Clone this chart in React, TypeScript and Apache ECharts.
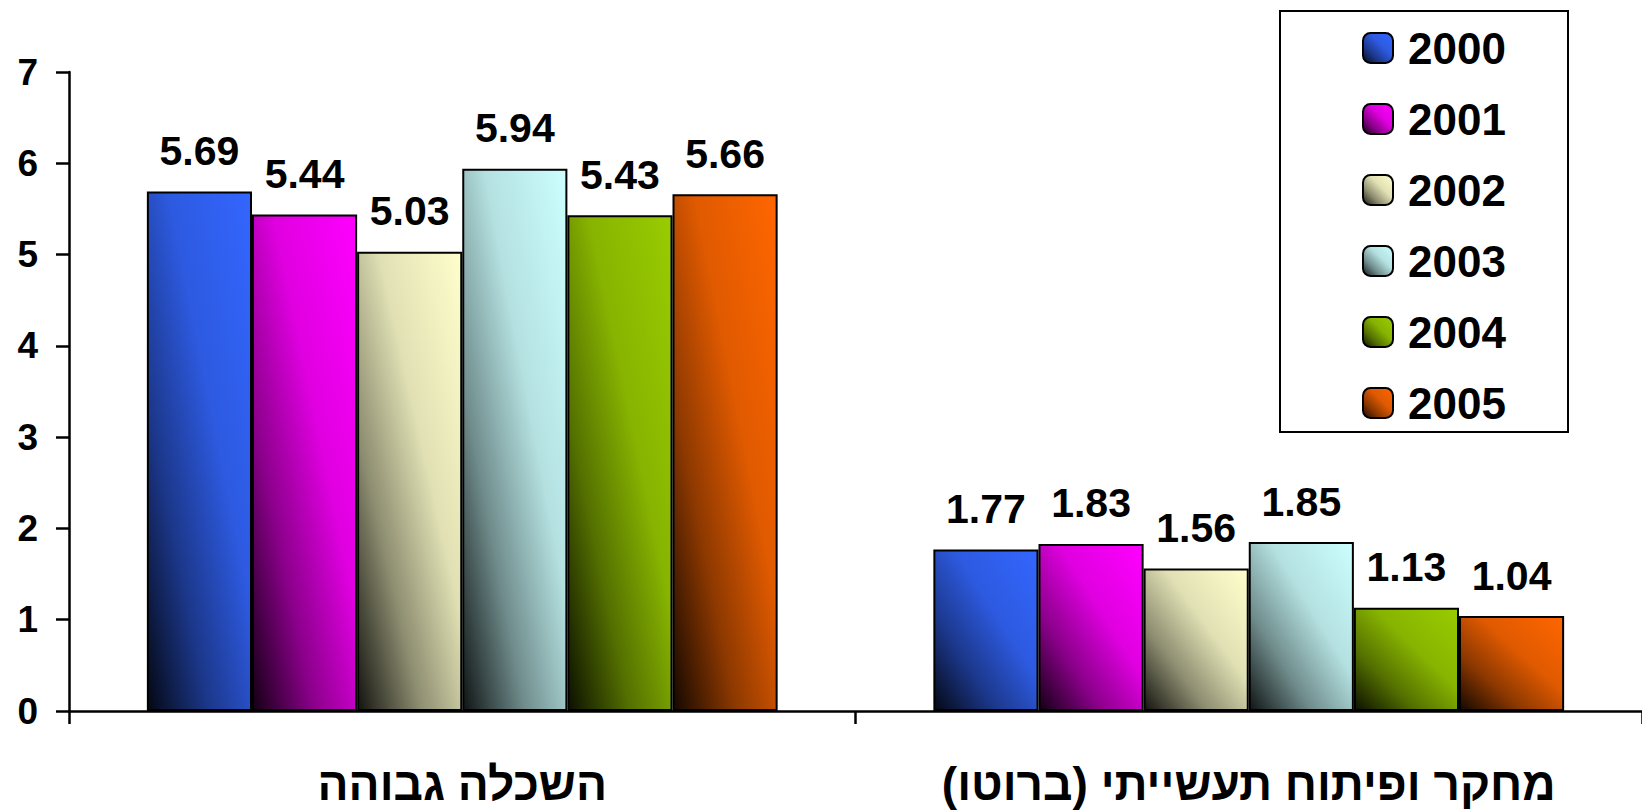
import React, { useEffect, useRef } from "react";
import * as echarts from "echarts";

const categories = ["השכלה גבוהה", "מחקר ופיתוח תעשייתי (ברוטו)"];
const years = ["2000", "2001", "2002", "2003", "2004", "2005"];
const v2000 = [5.69, 1.77];
const v2001 = [5.44, 1.83];
const v2002 = [5.03, 1.56];
const v2003 = [5.94, 1.85];
const v2004 = [5.43, 1.13];
const v2005 = [5.66, 1.04];
const seriesValues = [v2000, v2001, v2002, v2003, v2004, v2005];
const yTicks = { min: 0, max: 7, interval: 1 };

const baseColors = ["#3366FF", "#FF00FF", "#FFFFCC", "#CCFFFF", "#99CC00", "#FF6600"];

function shade(hex: string, f: number) {
  const n = parseInt(hex.slice(1), 16);
  const r = Math.round(((n >> 16) & 255) * f);
  const g = Math.round(((n >> 8) & 255) * f);
  const b = Math.round((n & 255) * f);
  return `rgb(${r},${g},${b})`;
}

function grad(hex: string) {
  return new echarts.graphic.LinearGradient(0, 1, 1, 0, [
    { offset: 0, color: shade(hex, 0.08) },
    { offset: 0.3, color: shade(hex, 0.55) },
    { offset: 0.6, color: shade(hex, 0.88) },
    { offset: 1, color: hex },
  ]);
}

const FONT = '"Liberation Sans", Arial, sans-serif';

export default function App() {
  const ref = useRef<HTMLDivElement>(null);
  useEffect(() => {
    document.body.style.margin = "0";
    if (!ref.current) return;
    const chart = echarts.init(ref.current, undefined, { renderer: "svg" });
    chart.setOption({
      animation: false,
      grid: { left: 69, right: 0, top: 72, bottom: 101, containLabel: false },
      graphic: [
        {
          type: "rect",
          shape: { x: 1280, y: 11, width: 288, height: 421 },
          style: { fill: "#fff", stroke: "#000", lineWidth: 2 },
          z: 0,
        },
      ],
      legend: {
        orient: "vertical",
        left: 1357,
        top: 21,
        itemWidth: 30,
        itemHeight: 30,
        itemGap: 27,
        data: years,
        textStyle: {
          fontFamily: FONT,
          fontWeight: "bold",
          fontSize: 44,
          lineHeight: 43,
          color: "#000",
          padding: [0, 0, 0, 10],
        },
        z: 5,
      },
      xAxis: {
        type: "category",
        data: categories,
        axisLine: { lineStyle: { color: "#000", width: 2.5 } },
        axisTick: { show: true, interval: 0, length: 13, lineStyle: { color: "#000", width: 2.5 } },
        axisLabel: {
          interval: 0,
          hideOverlap: false,
          fontFamily: FONT,
          fontWeight: "bold",
          fontSize: 46,
          color: "#000",
          margin: 50,
          formatter: (v: string) => "\u200F" + v + "\u200F",
        },
        splitLine: { show: false },
      },
      yAxis: {
        type: "value",
        min: yTicks.min,
        max: yTicks.max,
        interval: yTicks.interval,
        axisLine: { show: true, lineStyle: { color: "#000", width: 2.5 } },
        axisTick: { show: true, length: 13, lineStyle: { color: "#000", width: 2.5 } },
        axisLabel: {
          fontFamily: FONT,
          fontWeight: "bold",
          fontSize: 37,
          color: "#000",
          margin: 31,
        },
        splitLine: { show: false },
      },
      series: years.map((y, i) => ({
        name: y,
        type: "bar",
        data: seriesValues[i],
        barGap: "0%",
        barCategoryGap: "19.8%",
        itemStyle: {
          color: grad(baseColors[i]),
          borderColor: "#000",
          borderWidth: 2,
        },
        label: {
          show: true,
          position: "top",
          distance: 20,
          fontFamily: FONT,
          fontWeight: "bold",
          fontSize: 41,
          color: "#000",
          formatter: (p: any) => Number(p.value).toFixed(2),
        },
      })),
    });
    return () => chart.dispose();
  }, []);
  return <div ref={ref} style={{ width: 1642, height: 812 }} />;
}
